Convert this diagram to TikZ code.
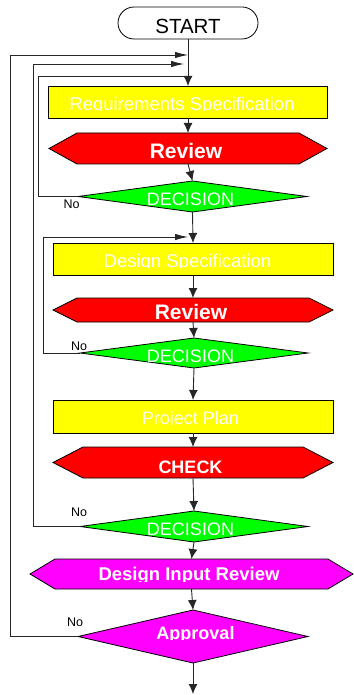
\documentclass[tikz,border=0pt]{standalone}
\usepackage{fontspec}
\setmainfont{Liberation Sans}
\usetikzlibrary{arrows.meta,shapes.geometric,shapes.misc}
\newcommand\fsz[1]{\fontsize{#1}{#1}\selectfont}
\newcommand\hexat[3]{\draw[shapeline, fill=#3] (#1.west) -- ([xshift=#2]#1.north west) -- ([xshift=-#2]#1.north east) -- (#1.east) -- ([xshift=-#2]#1.south east) -- ([xshift=#2]#1.south west) -- cycle;}
\tikzset{
  shapeline/.style={draw=black, line width=0.8pt},
  frame/.style={draw=none, inner sep=0pt, outer sep=0pt},
  boxnode/.style={rectangle, shapeline, fill=yellow, inner sep=0pt, outer sep=0pt},
  decnode/.style={diamond, shapeline, inner sep=0pt, outer sep=0pt},
  txt/.style={text=white, inner sep=0pt, anchor=base},
  notxt/.style={text=black, inner sep=0pt, anchor=base, font=\fsz{12.5}},
  conn/.style={draw=black!85, line width=0.9pt},
  arr/.style={conn, -{Latex[length=10pt,width=9pt]}},
  harr/.style={conn, -{Latex[length=13pt,width=6.5pt]}},
}
\definecolor{cgreen}{RGB}{0,255,0}
\definecolor{cred}{RGB}{255,0,0}
\definecolor{cmag}{RGB}{255,0,255}
\definecolor{cyel}{RGB}{255,255,0}
\begin{document}
\begin{tikzpicture}[x=1pt,y=-1pt]
\useasboundingbox (0,0) rectangle (353,695);
% shapes
\node[shapeline, fill=white, rounded rectangle, minimum width=140pt, minimum height=32pt, inner sep=0pt, outer sep=0pt] (start) at (188,23) {};
\node[boxnode, fill=cyel, minimum width=279pt, minimum height=32pt] (rs) at (188,102) {};
\node[frame, minimum width=278pt, minimum height=31pt] (rev1) at (188,148.5) {};
\hexat{rev1}{28pt}{cred}
\node[decnode, fill=cgreen, minimum width=229pt, minimum height=31pt] (d1) at (192.5,196.5) {};
\node[boxnode, fill=cyel, minimum width=280pt, minimum height=32pt] (ds) at (193,259) {};
\node[frame, minimum width=280pt, minimum height=24pt] (rev2) at (193,310) {};
\hexat{rev2}{24pt}{cred}
\node[decnode, fill=cgreen, minimum width=228pt, minimum height=30pt] (d2) at (194,353) {};
\node[boxnode, fill=cyel, minimum width=280pt, minimum height=33pt] (pp) at (193,416.5) {};
\node[frame, minimum width=280pt, minimum height=31pt] (chk) at (193,462.5) {};
\hexat{chk}{30pt}{cred}
\node[decnode, fill=cgreen, minimum width=228pt, minimum height=31pt] (d3) at (194,526.5) {};
\node[frame, minimum width=323pt, minimum height=30pt] (dir) at (191.5,574) {};
\hexat{dir}{25pt}{cmag}
\node[decnode, fill=cmag, minimum width=230pt, minimum height=53pt] (appr) at (193,636.5) {};
% coordinates
\coordinate (j1) at (188,55);
\coordinate (c1) at (10,55);
\coordinate (j2) at (184,64);
\coordinate (c2) at (33,64);
\coordinate (j3) at (188,76);
\coordinate (c3) at (38,76);
\coordinate (j4) at (188,237);
\coordinate (c4) at (43,237);
\coordinate (endpt) at (193,694);
% connectors
\draw[arr] (start.south) -- (rs.north);
\draw[arr] (rs.south) -- (rev1.north);
\draw[arr] (rev1.south) -- (d1.north);
\draw[arr] (d1.south) -- (ds.north);
\draw[arr] (ds.south) -- (rev2.north);
\draw[arr] (rev2.south) -- (d2.north);
\draw[arr] (d2.south) -- (pp.north);
\draw[arr] (pp.south) -- (chk.north);
\draw[arr] (chk.south) -- (d3.north);
\draw[arr] (d3.south) -- (dir.north);
\draw[arr] (dir.south) -- (appr.north);
\draw[arr] (appr.south) -- (endpt);
\draw[harr] (appr.west) -| (c1) -- (j1);
\draw[harr] (d3.west) -| (c2) -- (j2);
\draw[conn] (d1.west) -| (c3) -- (j3);
\draw[harr] (d2.west) -| (c4) -- (j4);
% texts
\node[txt, text=black, font=\fsz{20.5}] (tstart) at (188,34) {START};
\begin{scope}
\clip (0,80) rectangle (353,111);
\node[txt, font=\fsz{18.5}] (trs) at (182,110.5) {Requirements Specification};
\end{scope}
\node[txt, font=\fsz{21}\bfseries] (trev1) at (186,159) {Review};
\node[txt, font=\fsz{18}] (td1) at (190.5,205) {DECISION};
\begin{scope}
\clip (0,240) rectangle (353,267.5);
\node[txt, font=\fsz{18.5}] (tds) at (187.5,267) {Design Specification};
\end{scope}
\node[txt, font=\fsz{21}\bfseries] (trev2) at (191,319.5) {Review};
\node[txt, font=\fsz{18}] (td2) at (190.5,362) {DECISION};
\begin{scope}
\clip (0,398) rectangle (353,424.5);
\node[txt, font=\fsz{18}] (tpp) at (190.5,424) {Project Plan};
\end{scope}
\node[txt, font=\fsz{18}\bfseries] (tchk) at (190.5,473) {CHECK};
\node[txt, font=\fsz{18}] (td3) at (190.5,535) {DECISION};
\begin{scope}
\clip (0,555) rectangle (353,581);
\node[txt, font=\fsz{18.5}\bfseries] (tdir) at (189,580.7) {Design Input Review};
\end{scope}
\begin{scope}
\clip (0,615) rectangle (353,639.5);
\node[txt, font=\fsz{18}\bfseries] (tappr) at (195.5,639) {Approval};
\end{scope}
\node[notxt] (no1) at (71.7,208) {No};
\node[notxt] (no2) at (79,350) {No};
\node[notxt] (no3) at (79,516) {No};
\node[notxt] (no4) at (75,626.7) {No};
\end{tikzpicture}
\end{document}
